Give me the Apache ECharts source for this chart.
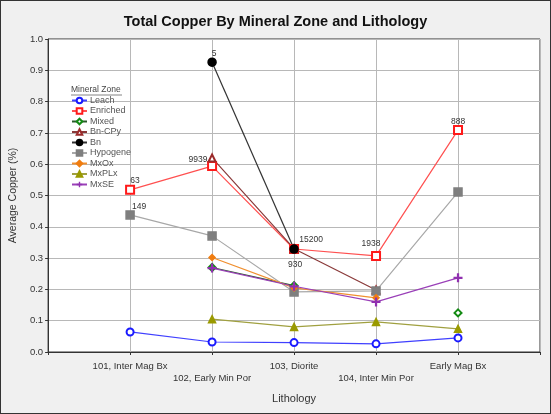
<!DOCTYPE html>
<html>
<head>
<meta charset="utf-8">
<script src="https://cdn.jsdelivr.net/npm/echarts@6/dist/echarts.min.js"></script>
<style>
html, body { margin: 0; padding: 0; background: #f0f0f0; }
#chart { width: 551px; height: 414px; outline: 1px solid #333; outline-offset: -1px; }
</style>
</head>
<body>
<div id="chart"></div>
<script>
// lithology categories (x axis)
const lithology = ['101, Inter Mag Bx', '102, Early Min Por', '103, Diorite', '104, Inter Min Por', 'Early Mag Bx']

// average copper (%) per mineral zone
const leach    = [0.064, 0.032, 0.030, 0.026, 0.045]
const enriched = [0.518, 0.594, 0.329, 0.307, 0.709]
const mixed    = [null, 0.270, 0.212, null, 0.125]
const bnCpy    = [null, 0.620, 0.330, 0.198, null]
const bn       = [null, 0.926, 0.329, null, null]
const hypogene = [0.438, 0.371, 0.192, 0.195, 0.511]
const mxOx     = [null, 0.302, 0.205, 0.173, null]
const mxPlx    = [null, 0.105, 0.080, 0.096, 0.074]
const mxSe     = [null, 0.268, 0.210, 0.160, 0.237]

// sample count labels
const enrichedN = ['63', '9939', null, '1938', '888']
const hypogeneN = ['149', null, '930', null, null]
const bnN       = [null, '5', '15200', null, null]

const yMin = 0, yMax = 1, yStep = 0.1

// label offsets relative to the marker centre
const offsets = {
  enriched: [[5, -9], [-14, -6], null, [-5, -12], [0, -8]],
  hypogene: [[9, -8], null, [1, -27], null, null],
  bn: [null, [2, -9], [17, -9], null, null]
}

const font = 'Liberation Sans, Arial, sans-serif'
const plus = 'path://M3,0H5V3H8V5H5V8H3V5H0V3H3Z'

const pad = arr => [null, ...arr, null]

const withLabels = (values, counts, offs) => {
  const data = values.map((v, i) => {
    if (!counts || counts[i] == null) return v
    return {
      value: v,
      label: {
        show: true,
        position: 'inside',
        formatter: counts[i],
        offset: offs[i],
        fontSize: 8.5,
        color: '#333',
        fontFamily: font
      }
    }
  })
  return pad(data)
}

const mkSeries = (name, data, color, lineColor, symbol, size, extra) => Object.assign({
  name,
  type: 'line',
  data,
  symbol,
  symbolSize: size,
  showSymbol: true,
  connectNulls: false,
  animation: false,
  lineStyle: { color: lineColor, width: 1.2 },
  itemStyle: { color, borderColor: color, borderWidth: 1.5 },
  emphasis: { disabled: true }
}, extra || {})

const chart = echarts.init(document.getElementById('chart'))

const option = {
  backgroundColor: 'transparent',
  animation: false,
  textStyle: { fontFamily: font },
  title: {
    text: 'Total Copper By Mineral Zone and Lithology',
    left: 'center',
    top: 9,
    textStyle: { fontSize: 14.5, fontWeight: 'bold', color: '#111', fontFamily: font }
  },
  graphic: [
    {
      type: 'text',
      left: 71,
      top: 85,
      style: { text: 'Mineral Zone', fontSize: 8.5, fill: '#444', fontFamily: font }
    },
    {
      type: 'line',
      shape: { x1: 71, y1: 95, x2: 122, y2: 95 },
      style: { stroke: '#666', lineWidth: 0.8 }
    }
  ],
  legend: {
    orient: 'vertical',
    left: 71,
    top: 96,
    padding: 0,
    itemWidth: 15,
    itemHeight: 7,
    itemGap: 1.5,
    textStyle: { fontSize: 9, color: '#555', fontFamily: font, lineHeight: 8, padding: [0, 0, 0, -2] },
    data: ['Leach', 'Enriched', 'Mixed', 'Bn-CPy', 'Bn', 'Hypogene', 'MxOx', 'MxPLx', 'MxSE']
  },
  grid: {
    left: 48,
    right: 11,
    top: 39,
    bottom: 62,
    show: true,
    backgroundColor: '#fff',
    borderColor: '#333',
    borderWidth: 1
  },
  xAxis: {
    type: 'category',
    boundaryGap: false,
    data: pad(lithology).map(v => v == null ? '' : v),
    name: 'Lithology',
    nameLocation: 'middle',
    nameGap: 41,
    nameTextStyle: { fontSize: 11, color: '#333', fontFamily: font },
    axisLine: { lineStyle: { color: '#333' } },
    axisTick: { show: true, length: 3, interval: 0, lineStyle: { color: '#333' } },
    axisLabel: {
      interval: 0,
      margin: 8,
      fontSize: 9.5,
      color: '#333',
      lineHeight: 12,
      fontFamily: font,
      formatter: (v, i) => (i % 2 === 0 ? '\n' + v : v)
    },
    splitLine: { show: true, interval: 0, lineStyle: { color: '#b8b8b8', width: 1 } }
  },
  yAxis: {
    type: 'value',
    min: yMin,
    max: yMax,
    interval: yStep,
    name: 'Average Copper (%)',
    nameLocation: 'middle',
    nameGap: 28,
    nameTextStyle: { fontSize: 10.5, color: '#333', fontFamily: font },
    axisLine: { show: true, lineStyle: { color: '#333' } },
    axisTick: { show: true, length: 3, lineStyle: { color: '#333' } },
    axisLabel: {
      margin: 5,
      fontSize: 9.5,
      color: '#333',
      fontFamily: font,
      formatter: v => v.toFixed(1)
    },
    splitLine: { show: true, lineStyle: { color: '#b8b8b8', width: 1 } }
  },
  series: [
    mkSeries('Leach', pad(leach), '#1a1aff', '#4040ff', 'emptyCircle', 7),
    mkSeries('Enriched', withLabels(enriched, enrichedN, offsets.enriched), '#ff1a1a', '#ff5050', 'emptyRect', 8),
    mkSeries('Mixed', pad(mixed), '#138a13', '#2a5a2a', 'emptyDiamond', 7),
    mkSeries('Bn-CPy', pad(bnCpy), '#9b2b2b', '#8a3a3a', 'emptyTriangle', 7),
    mkSeries('Bn', withLabels(bn, bnN, offsets.bn), '#000', '#333', 'circle', 8),
    mkSeries('Hypogene', withLabels(hypogene, hypogeneN, offsets.hypogene), '#7f7f7f', '#a8a8a8', 'rect', 8),
    mkSeries('MxOx', pad(mxOx), '#f07d10', '#f09030', 'diamond', 6),
    mkSeries('MxPLx', pad(mxPlx), '#9a9a00', '#a0a040', 'triangle', 7),
    mkSeries('MxSE', pad(mxSe), '#9030b0', '#9a40b8', plus, 9, { itemStyle: { color: '#9030b0', borderWidth: 0 } })
  ]
}

chart.setOption(option)
</script>
</body>
</html>
